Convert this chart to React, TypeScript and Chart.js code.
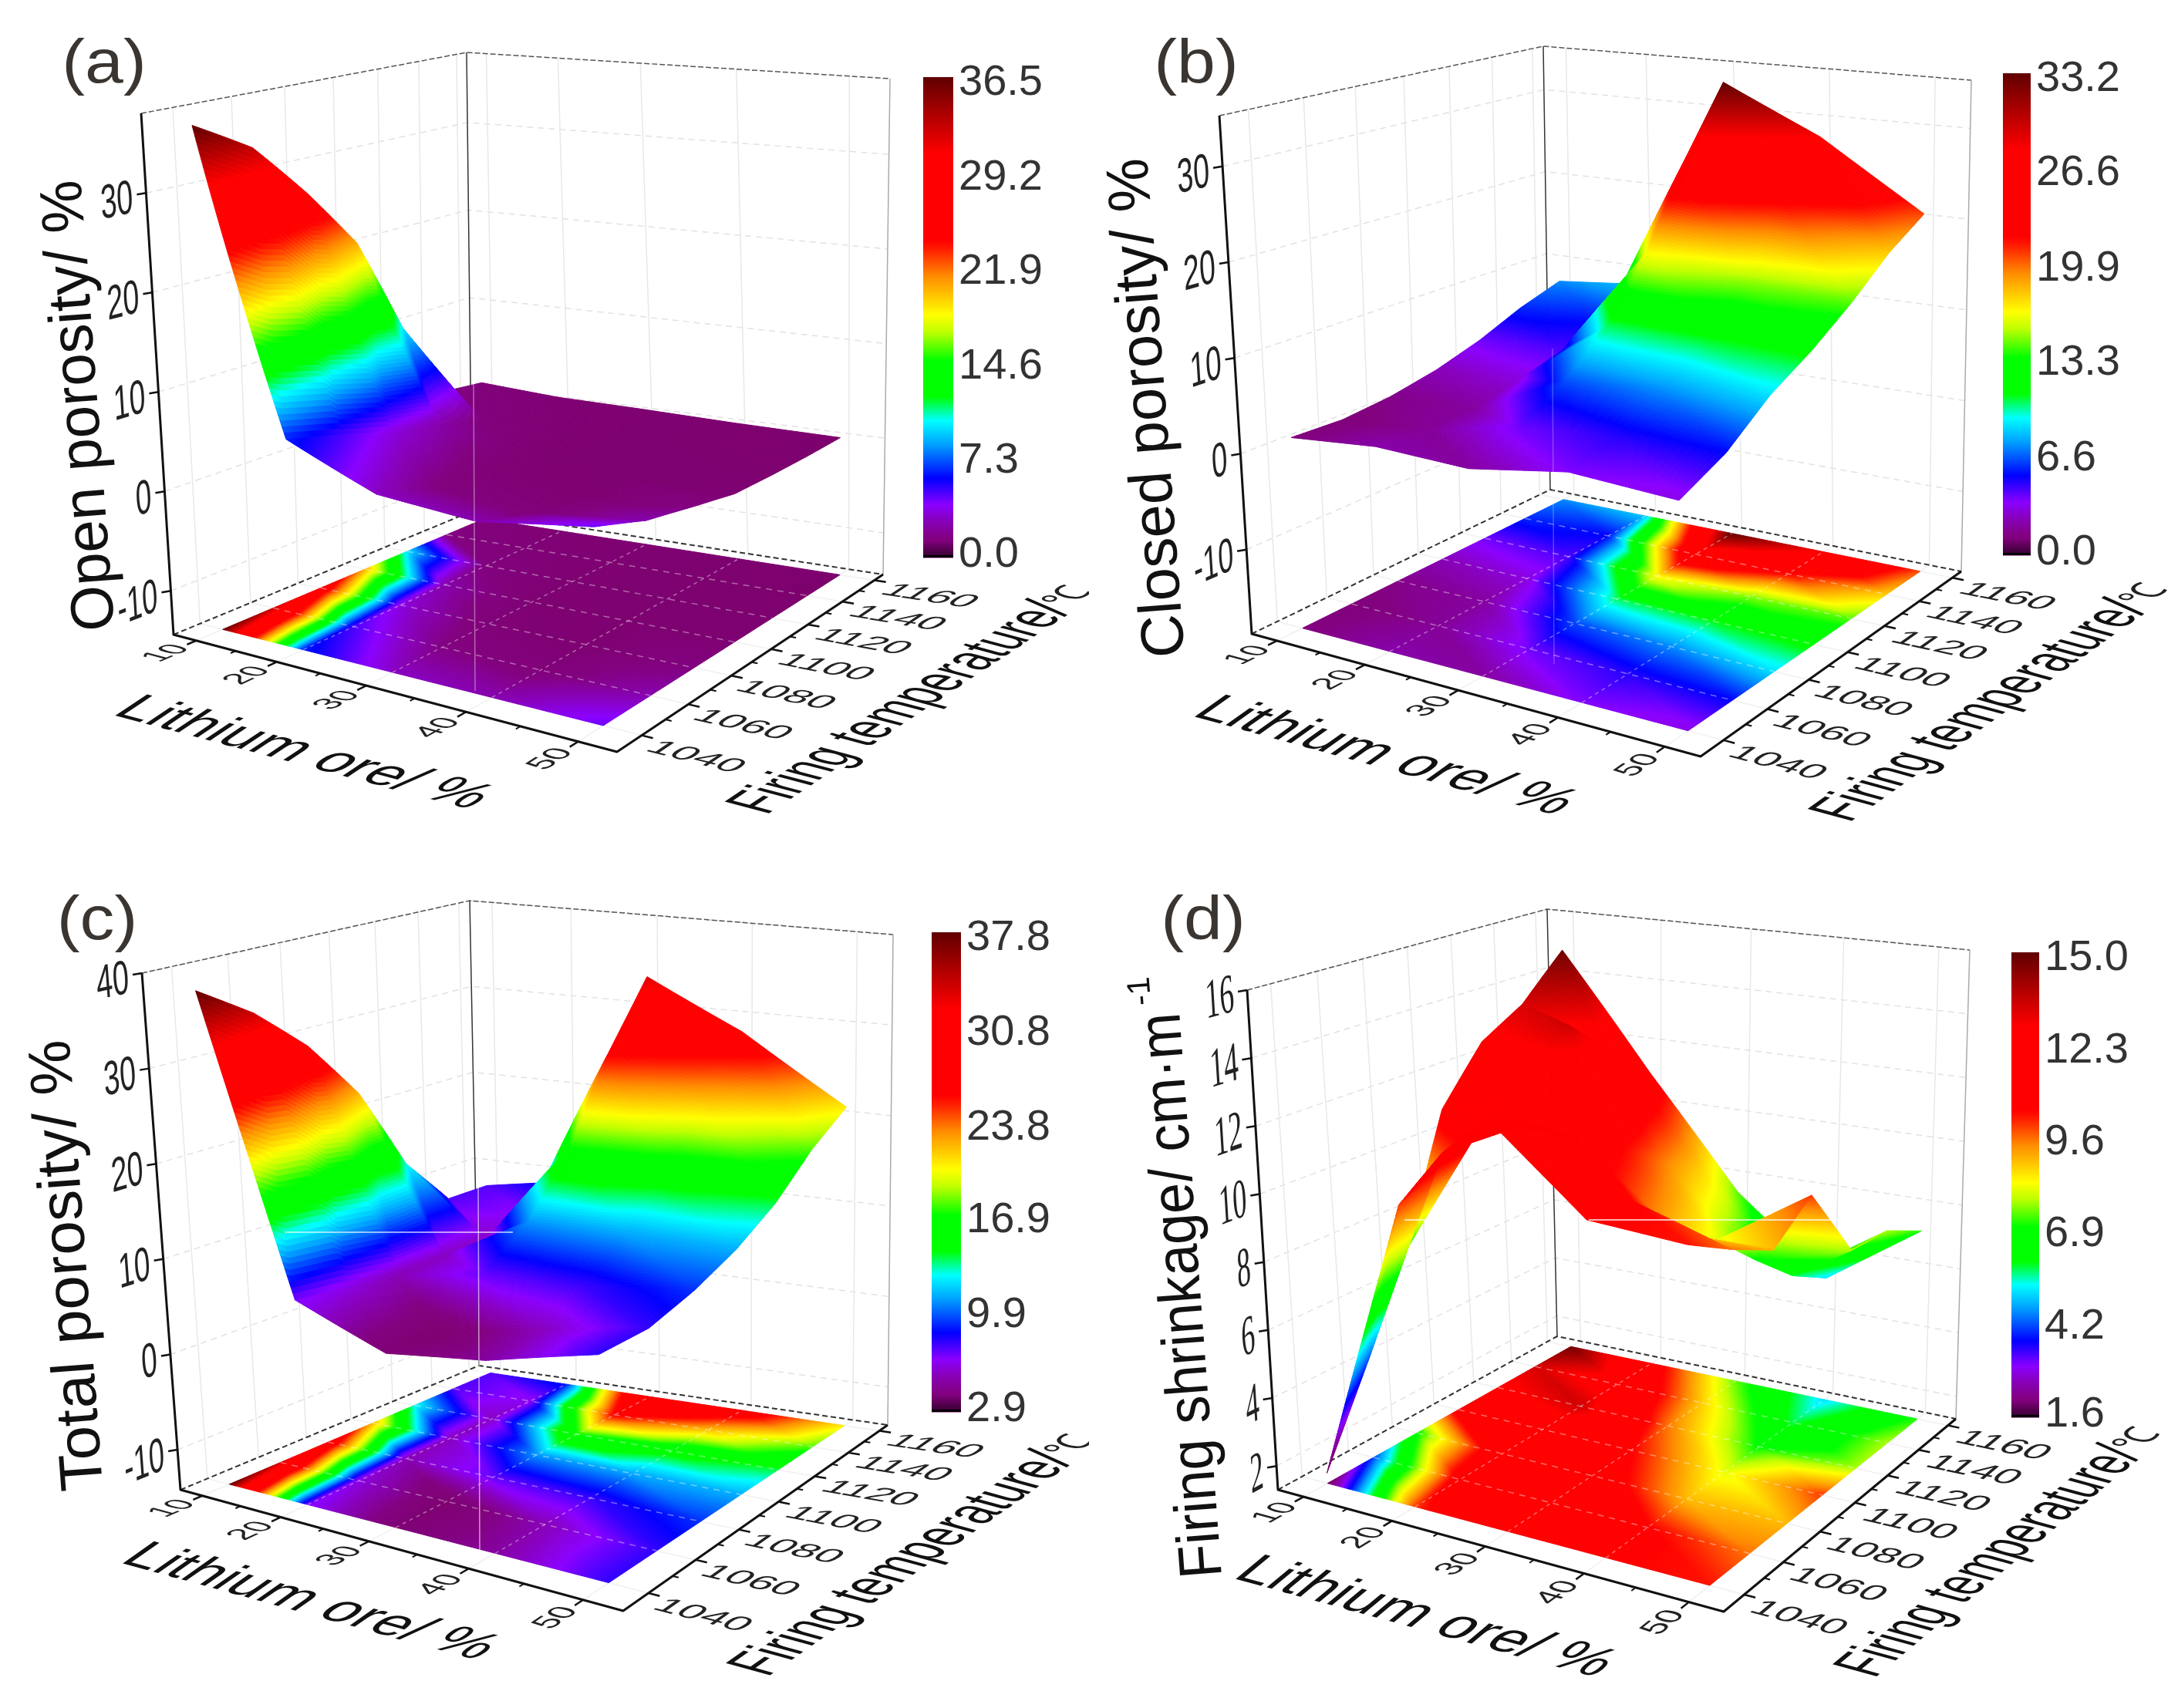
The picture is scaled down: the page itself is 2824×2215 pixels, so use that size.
import React, { useEffect, useRef } from "react";
import { Chart, registerables } from "chart.js";

Chart.register(...registerables);

// ---------- data ----------
const lithiumOre = [10, 20, 30, 40, 50];
const lithiumMinor = [15, 25, 35, 45];
const firingTemperature = [1040, 1060, 1080, 1100, 1120, 1140, 1160];
const temperatureMinor = [1050, 1070, 1090, 1110, 1130, 1150];

// rows: lithium ore; columns: firing temperature
const openPorosity = [
  [36.5, 33, 27, 20.5, 10, 1.5, 1],
  [6.5, 5, 3.5, 2.5, 1.3, 0.8, 0.5],
  [3, 1.5, 0.8, 0.5, 0.4, 0.4, 0.4],
  [2.5, 1, 0.4, 0.3, 0.3, 0.2, 0.2],
  [4.5, 2.5, 1.4, 0.4, 0.2, 0.1, 0.1],
];
const closedPorosity = [
  [1.2, 1, 1.5, 2.5, 4, 6, 7.5],
  [2.2, 1.8, 2, 3.2, 4.5, 5.5, 8.5],
  [2, 4, 6.5, 10.5, 17, 26, 33.2],
  [3.8, 5, 7.5, 11, 15, 22, 28],
  [3.3, 5.5, 9, 11.5, 14.5, 18, 20.6],
];
const totalPorosity = [
  [37.8, 34, 29, 22.4, 13, 7.5, 7.5],
  [7, 6.3, 5.5, 5.7, 5.8, 6.5, 9],
  [3.5, 3.2, 7.3, 11, 17.4, 26.4, 33.4],
  [5, 5.5, 7.9, 11.3, 15.3, 22.2, 28.2],
  [8, 8, 9.4, 11.4, 14.2, 18.1, 21],
];
const firingShrinkage = [
  [1.6, 4.2, 7, 10.9, 12.6, 13.4, 14.8],
  [10, 11, 11.5, 12, 13.5, 12.2, 11],
  [12.9, 12.3, 11.3, 10.5, 9.6, 8.8, 7.5],
  [10.5, 10.5, 9, 8.2, 7, 5.9, 5.2],
  [10.3, 9.6, 9, 10, 7.8, 7.8, 7.2],
];

const openTicks = [-10, 0, 10, 20, 30];
const closedTicks = [-10, 0, 10, 20, 30];
const totalTicks = [-10, 0, 10, 20, 30, 40];
const shrinkTicks = [2, 4, 6, 8, 10, 12, 14, 16];

const openBar = ["36.5", "29.2", "21.9", "14.6", "7.3", "0.0"];
const closedBar = ["33.2", "26.6", "19.9", "13.3", "6.6", "0.0"];
const totalBar = ["37.8", "30.8", "23.8", "16.9", "9.9", "2.9"];
const shrinkBar = ["15.0", "12.3", "9.6", "6.9", "4.2", "1.6"];

// ---------- colour map ----------
const colorStops: [number, number, number, number][] = [
  [0, 124, 0, 108], [0.04, 130, 0, 128], [0.08, 136, 0, 192], [0.11, 138, 0, 255],
  [0.165, 0, 0, 255], [0.235, 0, 160, 255], [0.285, 0, 255, 255], [0.335, 0, 255, 0], [0.41, 0, 255, 0],
  [0.47, 192, 255, 0], [0.505, 255, 255, 0], [0.585, 255, 140, 0], [0.64, 255, 32, 0], [0.66, 255, 0, 0],
  [0.84, 255, 0, 0], [0.92, 176, 0, 0], [1, 96, 0, 0],
];
function colorAt(t: number) {
  const x = Math.max(0, Math.min(1, t));
  for (let i = 1; i < colorStops.length; i++) {
    const a = colorStops[i - 1], b = colorStops[i];
    if (x <= b[0]) {
      const f = (x - a[0]) / (b[0] - a[0]);
      return `rgb(${Math.round(a[1] + (b[1] - a[1]) * f)},${Math.round(a[2] + (b[2] - a[2]) * f)},${Math.round(a[3] + (b[3] - a[3]) * f)})`;
    }
  }
  return "rgb(96,0,0)";
}

// ---------- geometry ----------
type Pt = [number, number];
function squareToQuad(p0: Pt, p1: Pt, p2: Pt, p3: Pt) {
  const dx1 = p1[0] - p2[0], dx2 = p3[0] - p2[0], sx = p0[0] - p1[0] + p2[0] - p3[0];
  const dy1 = p1[1] - p2[1], dy2 = p3[1] - p2[1], sy = p0[1] - p1[1] + p2[1] - p3[1];
  const det = dx1 * dy2 - dx2 * dy1;
  const g = (sx * dy2 - dx2 * sy) / det, h = (dx1 * sy - sx * dy1) / det;
  const a = p1[0] - p0[0] + g * p1[0], b = p3[0] - p0[0] + h * p3[0], c = p0[0];
  const d = p1[1] - p0[1] + g * p1[1], e = p3[1] - p0[1] + h * p3[1], f = p0[1];
  return (u: number, v: number): Pt => {
    const q = g * u + h * v + 1;
    return [(a * u + b * v + c) / q, (d * u + e * v + f) / q];
  };
}

const sansFont = '"Liberation Sans", Arial, sans-serif';
const serifFont = '"Liberation Serif", "Times New Roman", serif';

const panels = [
  {
    left: 0, top: 0, letter: "(a)", letterAt: [135, 85] as Pt, values: openPorosity, zTicks: openTicks, barLabels: openBar,
    zMin: -14.4, zMax: 38, cMin: 0, cMax: 36.5, zTitle: "Open porosity/ %", zSup: "", zTitleAt: [105, 526] as Pt, zTitleLen: 586, zFont: sansFont,
    floor: [[225, 823], [800, 975], [1145, 745], [612, 663]] as Pt[], topQuad: [[183, 147], [770, 254], [1154, 102], [605, 68]] as Pt[],
    bar: [1197, 1236, 100, 723], liTitle: [393, 977, 482], tTitle: [1170, 918, 480],
    vLine: [614, 487, 896], hLines: [] as number[][], alpha: 0.4,
  },
  {
    left: 1412, top: 0, letter: "(b)", letterAt: [139, 85] as Pt, values: closedPorosity, zTicks: closedTicks, barLabels: closedBar,
    zMin: -18.8, zMax: 35.3, cMin: 0, cMax: 33.2, zTitle: "Closed porosity/ %", zSup: "", zTitleAt: [78, 529] as Pt, zTitleLen: 649, zFont: sansFont,
    floor: [[211, 822], [793, 981], [1131, 741], [598, 635]] as Pt[], topQuad: [[169, 150], [765, 236], [1144, 104], [589, 60]] as Pt[],
    bar: [1185, 1221, 95, 720], liTitle: [384, 981, 491], tTitle: [1158, 922, 480],
    vLine: [601, 452, 861], hLines: [] as number[][], alpha: 0.25,
  },
  {
    left: 0, top: 1108, letter: "(c)", letterAt: [126, 88] as Pt, values: totalPorosity, zTicks: totalTicks, barLabels: totalBar,
    zMin: -14.2, zMax: 40, cMin: 2.9, cMax: 37.8, zTitle: "Total porosity/ %", zSup: "", zTitleAt: [90, 533] as Pt, zTitleLen: 586, zFont: sansFont,
    floor: [[234, 824], [808, 981], [1151, 740], [621, 663]] as Pt[], topQuad: [[184, 154], [773, 243], [1158, 104], [609, 60]] as Pt[],
    bar: [1208, 1246, 101, 723], liTitle: [402, 970, 482], tTitle: [1172, 920, 490],
    vLine: [620, 423, 903], hLines: [[369, 665, 490]], alpha: 0.6,
  },
  {
    left: 1412, top: 1108, letter: "(d)", letterAt: [148, 88] as Pt, values: firingShrinkage, zTicks: shrinkTicks, barLabels: shrinkBar,
    zMin: 1.3, zMax: 16, cMin: 1.6, cMax: 15, zTitle: "Firing shrinkage/ cm·m", zSup: "-1", zTitleAt: [123, 572] as Pt, zTitleLen: 735, zFont: serifFont,
    floor: [[245, 824], [823, 982], [1124, 732], [607, 625]] as Pt[], topQuad: [[205, 176], [769, 240], [1142, 124], [594, 71]] as Pt[],
    bar: [1196, 1232, 127, 730], liTitle: [436, 990, 490], tTitle: [1170, 917, 455],
    vLine: [0, 0, 0], hLines: [[409, 445, 474], [648, 976, 474]], alpha: 0.7,
  },
];
type PanelDef = typeof panels[number];

function unit(a: Pt, b: Pt): Pt {
  const dx = b[0] - a[0], dy = b[1] - a[1];
  const l = Math.hypot(dx, dy) || 1;
  return [dx / l, dy / l];
}

function planeText(ctx: CanvasRenderingContext2D, text: string, at: Pt, xd: Pt, dd: Pt, font: string, sx: number, sy: number, align: CanvasTextAlign = "center", color = "#222", len = 0) {
  ctx.save();
  ctx.font = font;
  ctx.fillStyle = color;
  ctx.textAlign = align;
  ctx.textBaseline = "middle";
  const s = len ? len / ctx.measureText(text).width : sx;
  ctx.transform(xd[0] * s, xd[1] * s, dd[0] * sy, dd[1] * sy, at[0], at[1]);
  ctx.fillText(text, 0, 0);
  ctx.restore();
}

function polyline(ctx: CanvasRenderingContext2D, pts: Pt[], color: string, width: number, dash: number[] = []) {
  ctx.beginPath();
  pts.forEach((p, i) => (i ? ctx.lineTo(p[0], p[1]) : ctx.moveTo(p[0], p[1])));
  ctx.strokeStyle = color;
  ctx.lineWidth = width;
  ctx.setLineDash(dash);
  ctx.stroke();
  ctx.setLineDash([]);
}

function makePlugin(def: PanelDef) {
  const fl = squareToQuad(def.floor[0], def.floor[1], def.floor[2], def.floor[3]);
  const tp = squareToQuad(def.topQuad[0], def.topQuad[1], def.topQuad[2], def.topQuad[3]);
  const P = (u: number, v: number, w: number): Pt => {
    const a = fl(u, v), b = tp(u, v);
    return [a[0] + (b[0] - a[0]) * w, a[1] + (b[1] - a[1]) * w];
  };
  return {
    id: "surface3d",
    afterDatasetsDraw(chart: any) {
      const ctx: CanvasRenderingContext2D = chart.ctx;
      const sX = chart.scales.x, sY = chart.scales.y, sZ = chart.scales.z, sC = chart.scales.c;
      const U = (l: number) => (sX.getPixelForValue(l) - sX.left) / sX.width;
      const V = (t: number) => (sY.bottom - sY.getPixelForValue(t)) / sY.height;
      const W = (z: number) => (sZ.bottom - sZ.getPixelForValue(z)) / sZ.height;
      const CF = (c: number) => (sC.bottom - sC.getPixelForValue(c)) / sC.height;
      const nL = lithiumOre.length, nT = firingTemperature.length;
      const data: { x: number; y: number; v: number }[] = chart.data.datasets[0].data;
      const cell = (i: number, j: number) => data[i * nT + j];

      ctx.save();
      ctx.lineJoin = "round";

      // wall and floor grid
      for (const z of def.zTicks) {
        const w = W(z);
        polyline(ctx, [P(0, 0, w), P(0, 1, w), P(1, 1, w)], "#e2e2e2", 1.5, [8, 6]);
      }
      for (const t of firingTemperature) {
        const v = V(t);
        polyline(ctx, [P(0, v, 0), P(0, v, 1)], "#e8e8e8", 1.5);
        polyline(ctx, [P(0, v, 0), P(1, v, 0)], "#f0f0f0", 1.5);
      }
      for (const l of lithiumOre) {
        const u = U(l);
        polyline(ctx, [P(u, 1, 0), P(u, 1, 1)], "#e8e8e8", 1.5);
        polyline(ctx, [P(u, 0, 0), P(u, 1, 0)], "#f0f0f0", 1.5);
      }

      // frame behind the surface
      polyline(ctx, [P(0, 0, 1), P(0, 1, 1), P(1, 1, 1)], "#555", 1.5, [7, 3]);
      polyline(ctx, [P(0, 1, 0), P(0, 1, 1)], "#333", 1.5);
      polyline(ctx, [P(1, 1, 0), P(1, 1, 1)], "#aaa", 1.5);
      polyline(ctx, [P(0, 0, 0), P(0, 1, 0), P(1, 1, 0)], "#333", 2, [7, 4]);

      // mesh painter: each cell is split in two flat triangles
      const drawMesh = (flat: boolean) => {
        for (let i = 0; i < nL - 1; i++) {
          for (let j = nT - 2; j >= 0; j--) {
            const a = cell(i, j), b = cell(i + 1, j), c = cell(i + 1, j + 1), d = cell(i, j + 1);
            const u0 = U(a.x), u1 = U(b.x), v0 = V(a.y), v1 = V(d.y);
            const height = (z: number) => (flat ? 0 : W(z));
            const corners = [P(u0, v0, height(a.v)), P(u1, v0, height(b.v)), P(u1, v1, height(c.v)), P(u0, v1, height(d.v))];
            const dist = (p: Pt, q: Pt) => Math.hypot(p[0] - q[0], p[1] - q[1]);
            const nu = Math.min(50, Math.max(6, Math.ceil(Math.max(dist(corners[0], corners[1]), dist(corners[3], corners[2])) / 4)));
            const nv = Math.min(50, Math.max(6, Math.ceil(Math.max(dist(corners[0], corners[3]), dist(corners[1], corners[2])) / 4)));
            const val = (s: number, r: number) =>
              s + r <= 1 ? a.v + (b.v - a.v) * s + (d.v - a.v) * r : c.v + (d.v - c.v) * (1 - s) + (b.v - c.v) * (1 - r);
            const pos = (s: number, r: number): Pt => P(u0 + (u1 - u0) * s, v0 + (v1 - v0) * r, flat ? 0 : W(val(s, r)));
            for (let si = 0; si < nu; si++) {
              for (let ri = nv - 1; ri >= 0; ri--) {
                const s0 = si / nu, s1 = (si + 1) / nu, r0 = ri / nv, r1 = (ri + 1) / nv;
                const color = colorAt(CF(val((s0 + s1) / 2, (r0 + r1) / 2)));
                const q = [pos(s0, r0), pos(s1, r0), pos(s1, r1), pos(s0, r1)];
                ctx.beginPath();
                q.forEach((p, k) => (k ? ctx.lineTo(p[0], p[1]) : ctx.moveTo(p[0], p[1])));
                ctx.closePath();
                ctx.fillStyle = color;
                ctx.strokeStyle = color;
                ctx.lineWidth = 1;
                ctx.fill();
                ctx.stroke();
              }
            }
          }
        }
      };

      // contour on the floor and its dashed overlay
      drawMesh(true);
      const u10 = U(lithiumOre[0]), u50 = U(lithiumOre[nL - 1]), v10 = V(firingTemperature[0]), v50 = V(firingTemperature[nT - 1]);
      for (const t of firingTemperature.slice(1, -1)) {
        polyline(ctx, [P(u10, V(t), 0), P(u50, V(t), 0)], "rgba(255,255,255,0.4)", 1.5, [8, 7]);
      }
      for (const l of lithiumOre.slice(1, -1)) {
        polyline(ctx, [P(U(l), v10, 0), P(U(l), v50, 0)], "rgba(255,255,255,0.4)", 1.5, [5, 5]);
      }

      // surface
      drawMesh(false);

      // light guide lines that cross the surface
      if (def.vLine[2] > 0) {
        polyline(ctx, [[def.vLine[0], def.vLine[1]], [def.vLine[0] + 2, def.vLine[2]]], `rgba(255,255,255,${def.alpha})`, 1.5);
      }
      for (const h of def.hLines) {
        polyline(ctx, [[h[0], h[2]], [h[1], h[2]]], `rgba(255,255,255,${def.alpha})`, 2);
      }

      // front axes and z axis
      polyline(ctx, [P(0, 0, 1), P(0, 0, 0), P(1, 0, 0), P(1, 1, 0)], "#111", 3);

      const tickFont = `40px ${sansFont}`;
      const tUnit = (u: number, v: number) => unit(P(u, v, 0), P(u, Math.min(1, v + 0.02), 0));
      const lUnit = (u: number, v: number) => unit(P(u, v, 0), P(Math.min(1, u + 0.02), v, 0));

      for (const l of lithiumMinor) {
        const a = P(U(l), 0, 0), d = tUnit(U(l), 0);
        polyline(ctx, [a, [a[0] - d[0] * 7, a[1] - d[1] * 7]], "#111", 2);
      }
      for (const l of lithiumOre) {
        const a = P(U(l), 0, 0), d = tUnit(U(l), 0), ld = lUnit(U(l), 0);
        polyline(ctx, [a, [a[0] - d[0] * 13, a[1] - d[1] * 13]], "#111", 2.5);
        planeText(ctx, String(l), [a[0] - d[0] * 42, a[1] - d[1] * 42], d, ld, tickFont, 1.03, 1.05);
      }
      for (const t of temperatureMinor) {
        const a = P(1, V(t), 0), d = lUnit(0.98, V(t));
        polyline(ctx, [a, [a[0] + d[0] * 8, a[1] + d[1] * 8]], "#111", 2);
      }
      for (const t of firingTemperature) {
        const a = P(1, V(t), 0), d = lUnit(0.98, V(t)), td = tUnit(1, Math.min(V(t), 0.97));
        polyline(ctx, [a, [a[0] + d[0] * 15, a[1] + d[1] * 15]], "#111", 2.5);
        planeText(ctx, String(t), [a[0] + d[0] * 84 - td[0] * 14, a[1] + d[1] * 84 - td[1] * 14], d, [-td[0], -td[1]], tickFont, 1.36, 0.95);
      }
      const isSerif = def.zFont === serifFont;
      for (const z of def.zTicks) {
        const w = W(z), a = P(0, 0, w);
        const along = unit(a, P(0, 0.1, w));
        const axisDown = unit(P(0, 0, 1), P(0, 0, 0));
        polyline(ctx, [a, [a[0] - 12, a[1] + 2]], "#111", 2.5);
        planeText(ctx, String(z), [a[0] - 17, a[1] + 8], along, axisDown,
          isSerif ? `72px ${serifFont}` : `62px ${sansFont}`, isSerif ? 0.53 : 0.62, 1, "right");
      }

      // axis titles
      const titleFont = `76px ${sansFont}`;
      const lDir = unit(P(0, 0, 0), P(1, 0, 0)), tDir = unit(P(1, 0, 0), P(1, 1, 0));
      planeText(ctx, "Lithium ore/ %", [def.liTitle[0], def.liTitle[1]], lDir, [-tDir[0], -tDir[1]], titleFont, 1, 0.95, "center", "#111", def.liTitle[2]);
      // temperature title: the text with a small unit sign at its end
      const tCentre: Pt = [def.tTitle[0], def.tTitle[1]];
      const tHalf = def.tTitle[2] / 2;
      planeText(ctx, "Firing temperature/", tCentre, tDir, lDir, `72px ${sansFont}`, 1, 1.2, "center", "#111", def.tTitle[2]);
      planeText(ctx, "℃", [tCentre[0] + tDir[0] * (tHalf + 20), tCentre[1] + tDir[1] * (tHalf + 20)], tDir, lDir, `50px ${sansFont}`, 0.8, 1.1, "center", "#222");

      const up: Pt = unit([0, 0], [-0.075, -1]);
      const dn: Pt = [-up[1], up[0]];
      planeText(ctx, def.zTitle, def.zTitleAt, up, dn, `78px ${sansFont}`, 1, 1, "center", "#111", def.zTitleLen);
      if (def.zSup) {
        const half = def.zTitleLen / 2 + 30;
        planeText(ctx, def.zSup, [def.zTitleAt[0] + up[0] * half + dn[0] * -26, def.zTitleAt[1] + up[1] * half + dn[1] * -26], up, dn, `42px ${sansFont}`, 1, 1, "center", "#111");
      }

      // colour bar
      const [bx0, bx1, by0, by1] = def.bar;
      const steps = by1 - by0;
      for (let k = 0; k < steps; k++) {
        const cv = def.cMin + ((def.cMax - def.cMin) * (steps - k - 0.5)) / steps;
        ctx.fillStyle = colorAt(CF(cv));
        ctx.fillRect(bx0, by0 + k, bx1 - bx0, 1.5);
      }
      const fade = ctx.createLinearGradient(0, by1 - 22, 0, by1 - 3);
      fade.addColorStop(0, "rgba(40,0,40,0)");
      fade.addColorStop(1, "rgba(40,0,40,0.75)");
      ctx.fillStyle = fade;
      ctx.fillRect(bx0, by1 - 22, bx1 - bx0, 19);
      ctx.fillStyle = "#000";
      ctx.fillRect(bx0, by1 - 3, bx1 - bx0, 3);
      def.barLabels.forEach((label) => {
        const f = CF(Number(label));
        const y = by0 + 8 + (1 - f) * (by1 - by0 - 11);
        ctx.font = `56px ${sansFont}`;
        ctx.fillStyle = "#333";
        ctx.textAlign = "left";
        ctx.textBaseline = "middle";
        ctx.fillText(label, bx1 + 7, y);
      });

      // panel letter
      planeText(ctx, def.letter, def.letterAt, [1, 0], [0, 1], `80px ${sansFont}`, 1.12, 1, "center", "#3a3530");
      ctx.restore();
    },
  };
}

function Panel({ def }: { def: PanelDef }) {
  const ref = useRef<HTMLCanvasElement>(null);
  useEffect(() => {
    if (!ref.current) return;
    const points: { x: number; y: number; v: number }[] = [];
    lithiumOre.forEach((l, i) => firingTemperature.forEach((t, j) => points.push({ x: l, y: t, v: def.values[i][j] })));
    const chart = new Chart(ref.current, {
      type: "scatter",
      data: { datasets: [{ label: def.zTitle, data: points as any, pointRadius: 0, showLine: false }] },
      options: {
        responsive: false,
        animation: false,
        devicePixelRatio: 1,
        layout: { padding: 0 },
        plugins: { legend: { display: false }, tooltip: { enabled: false } },
        scales: {
          x: { type: "linear", display: false, min: 7, max: 53.2 },
          y: { type: "linear", display: false, min: 1030, max: 1165.6 },
          z: { type: "linear", display: false, axis: "y", min: def.zMin, max: def.zMax },
          c: { type: "linear", display: false, axis: "y", min: def.cMin, max: def.cMax },
        } as any,
      },
      plugins: [makePlugin(def) as any],
    });
    return () => chart.destroy();
  }, [def]);
  return (
    <canvas
      ref={ref}
      width={1412}
      height={1108}
      style={{ position: "absolute", left: def.left, top: def.top, width: 1412, height: 1108, display: "block" }}
    />
  );
}

export default function App() {
  return (
    <div style={{ position: "absolute", left: 0, top: 0, width: 2824, height: 2215, overflow: "hidden", background: "#fff" }}>
      {panels.map((p) => (
        <Panel key={p.letter} def={p} />
      ))}
    </div>
  );
}
